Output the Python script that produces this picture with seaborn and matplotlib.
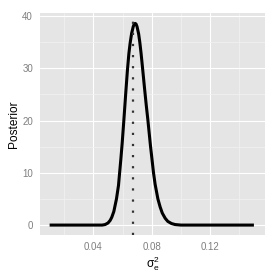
import numpy as np
import pandas as pd
import matplotlib
matplotlib.use("Agg")
import matplotlib.pyplot as plt
import seaborn as sns

# Data
sigma2 = [0.010, 0.030, 0.044, 0.046, 0.048, 0.0500, 0.0515, 0.0526, 0.0540,
          0.0549, 0.0558, 0.0572, 0.0578, 0.0588, 0.0597, 0.0609, 0.0622,
          0.0633, 0.0643, 0.0652, 0.0662, 0.0673, 0.0680, 0.0686, 0.0692,
          0.0699, 0.0710, 0.0718, 0.0727, 0.0736, 0.0750, 0.0762, 0.0773,
          0.0791, 0.0812, 0.0823, 0.0842, 0.0857, 0.0872, 0.0892, 0.0910,
          0.0935, 0.0960, 0.1000, 0.1300, 0.1500]
posterior = [0.0, 0.0, 0.0, 0.0, 0.1, 0.4, 0.9, 1.5, 2.6,
             3.8, 5.0, 7.6, 9.5, 12.6, 15.6, 20.2, 25.4,
             29.6, 32.8, 34.9, 36.7, 38.0, 38.5, 38.6, 38.5,
             38.0, 36.6, 35.0, 32.8, 30.3, 26.3, 23.0, 20.2,
             15.2, 10.0, 7.8, 5.0, 3.5, 2.3, 1.3, 0.7,
             0.3, 0.1, 0.0, 0.0, 0.0]
vline_x = 0.0668
x_ticks = [0.04, 0.08, 0.12]
x_tick_labels = ["0.04", "0.08", "0.12"]
y_ticks = [0, 10, 20, 30, 40]

df = pd.DataFrame({"sigma2": sigma2, "posterior": posterior})

sns.set_style("darkgrid")
plt.rcParams["font.family"] = ["Liberation Sans", "DejaVu Sans"]
plt.rcParams["mathtext.fontset"] = "custom"
plt.rcParams["mathtext.rm"] = "Liberation Sans"
plt.rcParams["mathtext.it"] = "Liberation Sans:italic"

fig = plt.figure(figsize=(2.78, 2.78), dpi=100)
ax = fig.add_axes([40/278, 1-235/278, (265-40)/278, (235-13)/278])
ax.set_facecolor("#E5E5E5")

# grid
ax.set_axisbelow(True)
ax.set_xticks([0.02, 0.06, 0.10, 0.14], minor=True)
ax.set_yticks([5, 15, 25, 35], minor=True)
ax.grid(which="major", color="white", linewidth=0.8)
ax.grid(which="minor", color="#F2F2F2", linewidth=0.5)

sns.lineplot(data=df, x="sigma2", y="posterior", ax=ax, color="black",
             linewidth=2.2, sort=True, solid_joinstyle="round",
             solid_capstyle="butt")
ax.axvline(vline_x, color="#333333", linestyle=(0, (1, 4)), linewidth=1.6)

ax.set_xlim(0.0034, 0.1576)
ax.set_ylim(-1.9, 40.6)
ax.set_xticks(x_ticks)
ax.set_xticklabels(x_tick_labels)
ax.set_yticks(y_ticks)

for s in ax.spines.values():
    s.set_visible(False)

ax.tick_params(which="major", length=3.5, width=0.7, color="#7F7F7F",
               labelcolor="#7F7F7F", labelsize=7, pad=1.5)
ax.tick_params(which="minor", length=0)

ax.set_xlabel(r"$\mathrm{\sigma}_\mathrm{e}^\mathrm{2}$", fontsize=8.6,
              color="black", labelpad=2)
ax.set_ylabel("Posterior", fontsize=8.6, color="black", labelpad=2)

fig.savefig("out.png", dpi=100)
